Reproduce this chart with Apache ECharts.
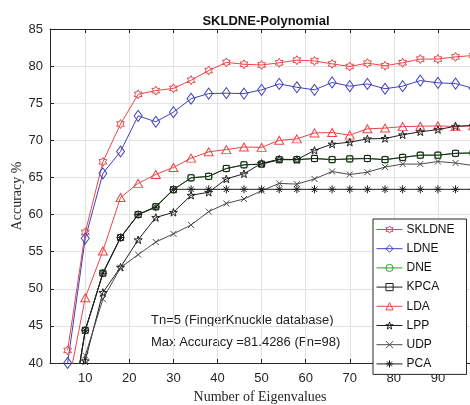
<!DOCTYPE html>
<html>
<head>
<meta charset="utf-8">
<script src="https://cdn.jsdelivr.net/npm/echarts@6/dist/echarts.min.js"></script>
<style>
  html, body { margin: 0; padding: 0; background: #ffffff; overflow: hidden; }
  #chart { width: 470px; height: 405px; }
</style>
</head>
<body>
<div id="chart"></div>
<script>
// Number of eigenvalues (feature dimension)
const fn = [6, 10, 14, 18, 22, 26, 30, 34, 38, 42, 46, 50, 54, 58, 62, 66, 70, 74, 78, 82, 86, 90, 94, 98];

// Recognition accuracy (%) per method
const skldne = [41.7, 57.6, 67.1, 72.2, 76.2, 76.7, 77.0, 78.1, 79.4, 80.5, 80.25, 80.15, 80.45, 80.8, 80.7, 80.3, 79.95, 80.4, 80.05, 80.45, 80.95, 80.95, 81.25, 81.4286];
const ldne   = [40.0, 56.8, 65.55, 68.5, 73.3, 72.5, 73.8, 75.6, 76.3, 76.35, 76.3, 76.8, 77.6, 77.15, 76.8, 77.8, 77.3, 77.6, 76.95, 77.3, 78.05, 77.75, 77.65, 77.0];
const dne    = [30.0, 44.4, 52.1, 56.9, 60.0, 61.05, 63.35, 64.95, 65.15, 66.2, 66.7, 66.8, 67.4, 67.4, 67.55, 67.4, 67.5, 67.55, 67.4, 67.7, 68.0, 68.0, 68.25, 68.3];
const kpca   = [30.0, 44.4, 52.1, 56.9, 60.0, 61.05, 63.35, 64.95, 65.15, 66.2, 66.7, 66.8, 67.4, 67.4, 67.55, 67.4, 67.5, 67.55, 67.4, 67.7, 68.0, 68.0, 68.25, 68.3];
const lda    = [36.6, 48.8, 55.1, 62.3, 64.2, 65.4, 66.35, 67.6, 68.45, 68.75, 69.1, 69.05, 70.0, 70.2, 71.0, 71.05, 70.7, 71.55, 71.65, 71.85, 71.9, 71.95, 71.85, 71.95];
const lpp    = [30.0, 40.3, 49.5, 52.9, 56.6, 59.6, 60.3, 62.6, 63.0, 64.8, 65.5, 66.9, 67.45, 67.4, 68.65, 69.5, 69.75, 70.2, 70.25, 70.75, 71.15, 71.45, 71.9, 72.0];
const udp    = [32.0, 41.0, 48.6, 52.85, 54.6, 56.3, 57.4, 58.6, 60.4, 61.5, 62.1, 63.2, 64.2, 64.1, 64.8, 65.8, 65.4, 65.7, 66.4, 66.8, 66.8, 67.15, 66.95, 66.6];
const pca    = [30.0, 44.4, 52.1, 56.9, 60.0, 61.0, 63.4, 63.4, 63.4, 63.4, 63.4, 63.4, 63.4, 63.4, 63.4, 63.4, 63.4, 63.4, 63.4, 63.4, 63.4, 63.4, 63.4, 63.4];

// Axis tick labels
const xTicks = [10, 20, 30, 40, 50, 60, 70, 80, 90, 100];
const yTicks = [40, 45, 50, 55, 60, 65, 70, 75, 80, 85];

const titleText = 'SKLDNE-Polynomial';
const noteLines = ['Tn=5 (FingerKnuckle database)', 'Max Accuracy =81.4286 (Fn=98)'];

// Star-shaped marker outlines (n points, inner radius ratio)
function starSymbol(n, inner) {
  const pts = [];
  for (let i = 0; i < 2 * n; i++) {
    const r = i % 2 === 0 ? 10 : 10 * inner;
    const a = -Math.PI / 2 + i * Math.PI / n;
    pts.push((r * Math.cos(a)).toFixed(3) + ',' + (r * Math.sin(a)).toFixed(3));
  }
  return 'path://M' + pts.join('L') + 'Z';
}
const hexagram = starSymbol(6, 0.577);
const pentagram = starSymbol(5, 0.382);
const crossMark = 'path://M0,0L10,10M0,10L10,0';
const asterisk = 'path://M5,0L5,10M0,5L10,5M1.6,1.6L8.4,8.4M1.6,8.4L8.4,1.6';

const RED = '#ea4646', BLUE = '#4040be', GREEN = '#28a428', BLACK = '#1e1e1e', GREY = '#4a4a4a';
const AXIS = '#262626', GRID = '#e2e2e2';
const SANS = '"Liberation Sans", Arial, sans-serif';
const SERIF = '"Liberation Serif", "Times New Roman", serif';

function makeSeries(name, data, color, symbol, size) {
  return {
    name: name,
    type: 'line',
    data: fn.map((x, i) => [x, data[i]]),
    symbol: symbol,
    symbolSize: size,
    symbolKeepAspect: true,
    showAllSymbol: true,
    clip: true,
    lineStyle: { color: color, width: 1 },
    itemStyle: { color: 'rgba(255,255,255,0)', borderColor: color, borderWidth: 1 },
    emphasis: { disabled: true },
    animation: false
  };
}

const series = [
  makeSeries('SKLDNE', skldne, RED, hexagram, 9),
  makeSeries('LDNE', ldne, BLUE, 'diamond', [8, 11]),
  makeSeries('DNE', dne, GREEN, 'circle', 7),
  makeSeries('KPCA', kpca, BLACK, 'rect', 6),
  makeSeries('LDA', lda, RED, 'triangle', [9, 8]),
  makeSeries('LPP', lpp, BLACK, pentagram, 8),
  makeSeries('UDP', udp, GREY, crossMark, 6),
  makeSeries('PCA', pca, BLACK, asterisk, 8)
];

const chart = echarts.init(document.getElementById('chart'), null, { renderer: 'canvas' });
chart.setOption({
  animation: false,
  backgroundColor: '#ffffff',
  title: {
    text: titleText,
    left: 261,
    top: 10,
    textAlign: 'center',
    textStyle: { fontFamily: SANS, fontSize: 13, fontWeight: 'bold', color: '#111' }
  },
  // plot box runs a little past the right edge of the canvas
  grid: { left: 50, top: 29, width: 432, height: 334, containLabel: false, outerBoundsMode: 'none' },
  xAxis: [{
    type: 'value',
    min: 2,
    max: 100,
    splitNumber: 10,
    position: 'bottom',
    name: 'Number of Eigenvalues',
    nameLocation: 'middle',
    nameGap: 27,
    nameMoveOverlap: false,
    nameTextStyle: { fontFamily: SERIF, fontSize: 14, color: AXIS, padding: [0, 12, 0, 0] },
    axisLine: { show: true, lineStyle: { color: AXIS, width: 1 } },
    axisTick: { show: true, inside: true, length: 4, customValues: xTicks, lineStyle: { color: AXIS } },
    axisLabel: { customValues: xTicks, color: AXIS, fontFamily: SANS, fontSize: 13, margin: 9 },
    splitLine: { show: true, lineStyle: { color: GRID, width: 1 } }
  }, {
    type: 'value',
    min: 2,
    max: 100,
    position: 'top',
    axisLine: { show: true, onZero: false, lineStyle: { color: AXIS, width: 1 } },
    axisTick: { show: true, inside: true, length: 4, customValues: xTicks, lineStyle: { color: AXIS } },
    axisLabel: { show: false },
    splitLine: { show: false }
  }],
  yAxis: {
    type: 'value',
    min: yTicks[0],
    max: yTicks[yTicks.length - 1],
    interval: 5,
    name: 'Accuracy %',
    nameLocation: 'middle',
    nameGap: 26,
    nameMoveOverlap: false,
    nameTextStyle: { fontFamily: SERIF, fontSize: 14, color: AXIS },
    axisLine: { show: true, lineStyle: { color: AXIS, width: 1 } },
    axisTick: { show: true, inside: true, length: 4, lineStyle: { color: AXIS } },
    axisLabel: { color: AXIS, fontFamily: SANS, fontSize: 13, margin: 7 },
    splitLine: { show: true, lineStyle: { color: GRID, width: 1 } }
  },
  legend: {
    orient: 'vertical',
    left: 373,
    top: 219,
    itemWidth: 26,
    itemHeight: 9,
    itemGap: 7.2,
    padding: [4.5, 12, 4.5, 3],
    backgroundColor: '#ffffff',
    borderColor: AXIS,
    borderWidth: 1,
    borderRadius: 0,
    selectedMode: false,
    lineStyle: { width: 1 },
    itemStyle: { borderWidth: 1 },
    textStyle: { fontFamily: SANS, fontSize: 12, color: '#111', padding: [0, 0, 0, -1] },
    data: series.map(s => s.name)
  },
  graphic: noteLines.map((t, i) => ({
    type: 'text',
    left: 151,
    top: 314 + i * 22,
    style: { text: t, font: '13px ' + SANS, fill: '#222' }
  })),
  series: series
});
</script>
</body>
</html>
